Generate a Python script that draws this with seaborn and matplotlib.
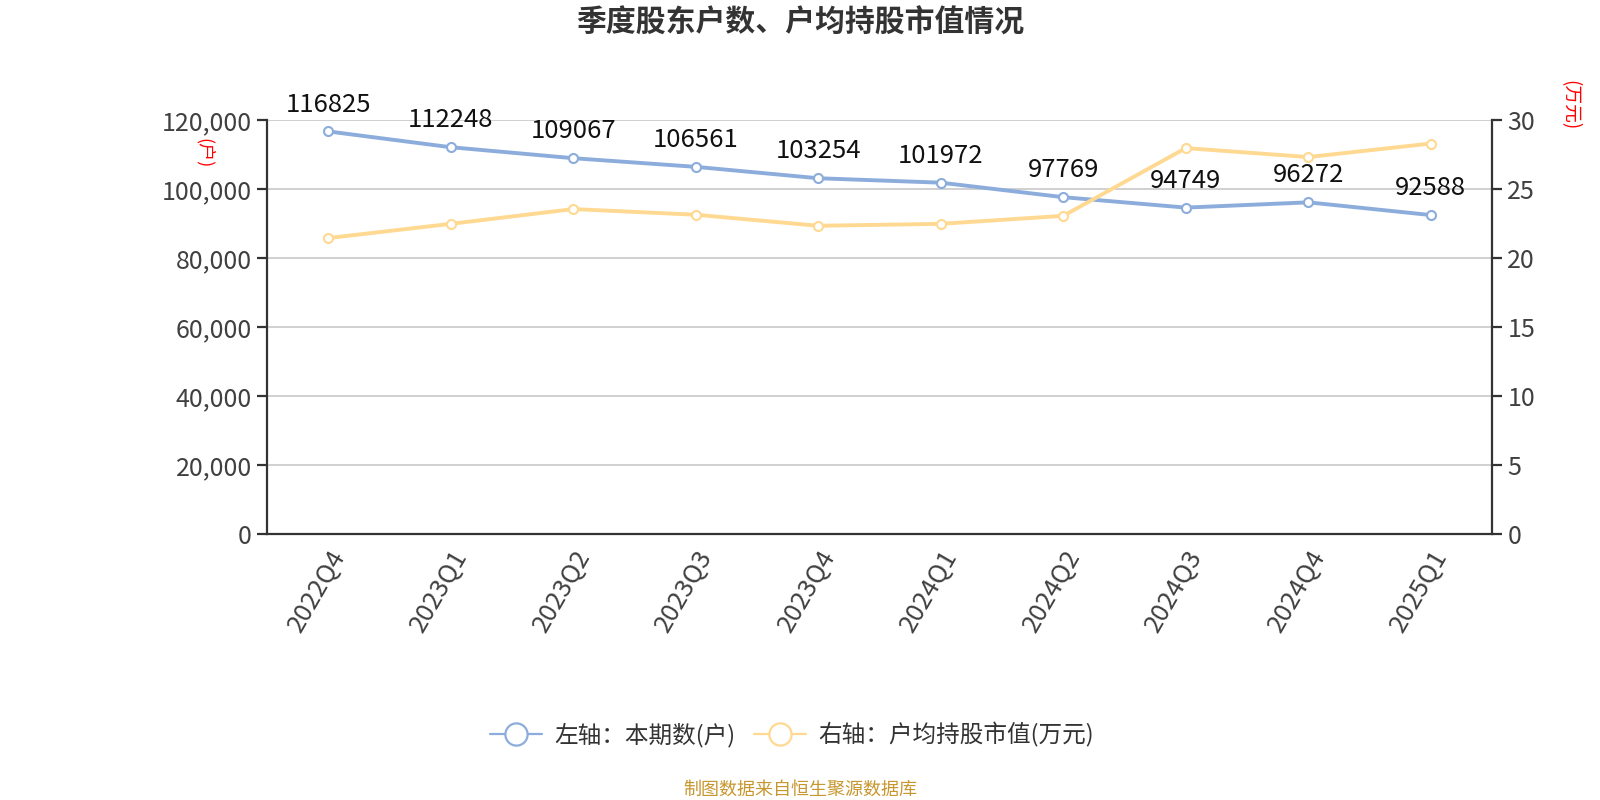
import numpy as np
import pandas as pd
import matplotlib
matplotlib.use("Agg")
import matplotlib.pyplot as plt
from matplotlib.lines import Line2D
import seaborn as sns

# chart data
quarters = ["2022Q4", "2023Q1", "2023Q2", "2023Q3", "2023Q4",
            "2024Q1", "2024Q2", "2024Q3", "2024Q4", "2025Q1"]
holders = [116825, 112248, 109067, 106561, 103254,
           101972, 97769, 94749, 96272, 92588]
avg_value = [21.48, 22.51, 23.58, 23.17, 22.37,
             22.51, 23.09, 28.0, 27.35, 28.33]
left_ticks = [0, 20000, 40000, 60000, 80000, 100000, 120000]
right_ticks = [0, 5, 10, 15, 20, 25, 30]

blue = "#8CADDC"
yellow = "#FFD991"
axis_col = "#333333"
text_col = "#404040"

sns.set_style("white")
plt.rcParams["font.family"] = ["Noto Sans CJK SC", "DejaVu Sans"]

df = pd.DataFrame({"pos": np.arange(len(quarters)), "quarter": quarters,
                   "holders": holders, "avg_value": avg_value})

fig = plt.figure(figsize=(16, 8), dpi=100)
ax = fig.add_axes([0.1669, 0.3319, 0.9325 - 0.1669, 0.8494 - 0.3319])
ax2 = ax.twinx()

sns.lineplot(data=df, x="pos", y="holders", ax=ax, color=blue, linewidth=2.8,
             marker="o", markersize=6.5, markerfacecolor="white",
             markeredgecolor=blue, markeredgewidth=1.5, zorder=3)
sns.lineplot(data=df, x="pos", y="avg_value", ax=ax2, color=yellow, linewidth=2.8,
             marker="o", markersize=6.5, markerfacecolor="white",
             markeredgecolor=yellow, markeredgewidth=1.5, zorder=3)

# value labels on blue series (drawn on top axes so they sit above both lines)
for x, v in zip(df["pos"], df["holders"]):
    ax2.annotate(str(v), xy=(x, v / 4000), xytext=(0, 10), textcoords="offset points",
                 ha="center", va="bottom", fontsize=18.5, color="#111111", zorder=5)

ax.set_xlim(-0.5, len(quarters) - 0.5)
ax.set_ylim(0, 120000)
ax2.set_ylim(0, 30)
ax.set_yticks(left_ticks)
ax.set_yticklabels([f"{t:,}" for t in left_ticks])
ax2.set_yticks(right_ticks)
ax2.set_yticklabels([str(t) for t in right_ticks])

ax.set_xticks(np.arange(-0.5, len(quarters), 1))
ax.set_xticklabels([""] * (len(quarters) + 1))
ax.set_xticks(np.arange(len(quarters)), minor=True)
ax.set_xticklabels(quarters, minor=True, rotation=60, ha="right",
                   rotation_mode="anchor", fontsize=18.5, color=text_col)
ax.tick_params(axis="x", which="major", length=8, width=1.6, color=axis_col, direction="out")
ax.tick_params(axis="x", which="minor", length=0, pad=8)
ax.tick_params(axis="y", length=7, width=1.6, color=axis_col, labelsize=18,
               labelcolor=text_col, pad=4)
ax2.tick_params(axis="y", length=7, width=1.6, color=axis_col, labelsize=18,
                labelcolor=text_col, pad=4)

ax.yaxis.grid(True, color="#C8C8C8", linewidth=1.2)
ax.set_axisbelow(True)
ax.set_xlabel("")
ax.set_ylabel("")
ax2.set_ylabel("")

for a in (ax, ax2):
    a.spines["top"].set_visible(False)
ax.spines["right"].set_visible(False)
ax2.spines["left"].set_visible(False)
ax2.spines["bottom"].set_visible(False)
ax.spines["left"].set_color(axis_col)
ax.spines["left"].set_linewidth(1.6)
ax.spines["bottom"].set_color(axis_col)
ax.spines["bottom"].set_linewidth(1.6)
ax2.spines["right"].set_color(axis_col)
ax2.spines["right"].set_linewidth(1.6)

fig.text(0.5, 0.972, "季度股东户数、户均持股市值情况", ha="center", va="center",
         fontsize=21.5, fontweight="bold", color="#333333")
fig.text(0.1275, 0.809, "(户)", ha="center", va="center", rotation=270,
         fontsize=13, color="red")
fig.text(0.981, 0.869, "(万元)", ha="center", va="center", rotation=270,
         fontsize=13.5, color="red")

handles = [
    Line2D([0], [0], color=blue, lw=1.6, marker="o", markersize=16,
           markerfacecolor="white", markeredgecolor=blue, markeredgewidth=1.6),
    Line2D([0], [0], color=yellow, lw=1.6, marker="o", markersize=16,
           markerfacecolor="white", markeredgecolor=yellow, markeredgewidth=1.6),
]
fig.legend(handles, ["左轴：本期数(户)", "右轴：户均持股市值(万元)"],
           loc="center", bbox_to_anchor=(0.495, 0.081), ncol=2, frameon=False,
           fontsize=17, handlelength=2.2, columnspacing=0.8, handletextpad=0.5,
           labelcolor="#333333")

fig.text(0.5, 0.0125, "制图数据来自恒生聚源数据库", ha="center", va="center",
         fontsize=13, color="#C8962E")

fig.savefig("out.png", dpi=100)
